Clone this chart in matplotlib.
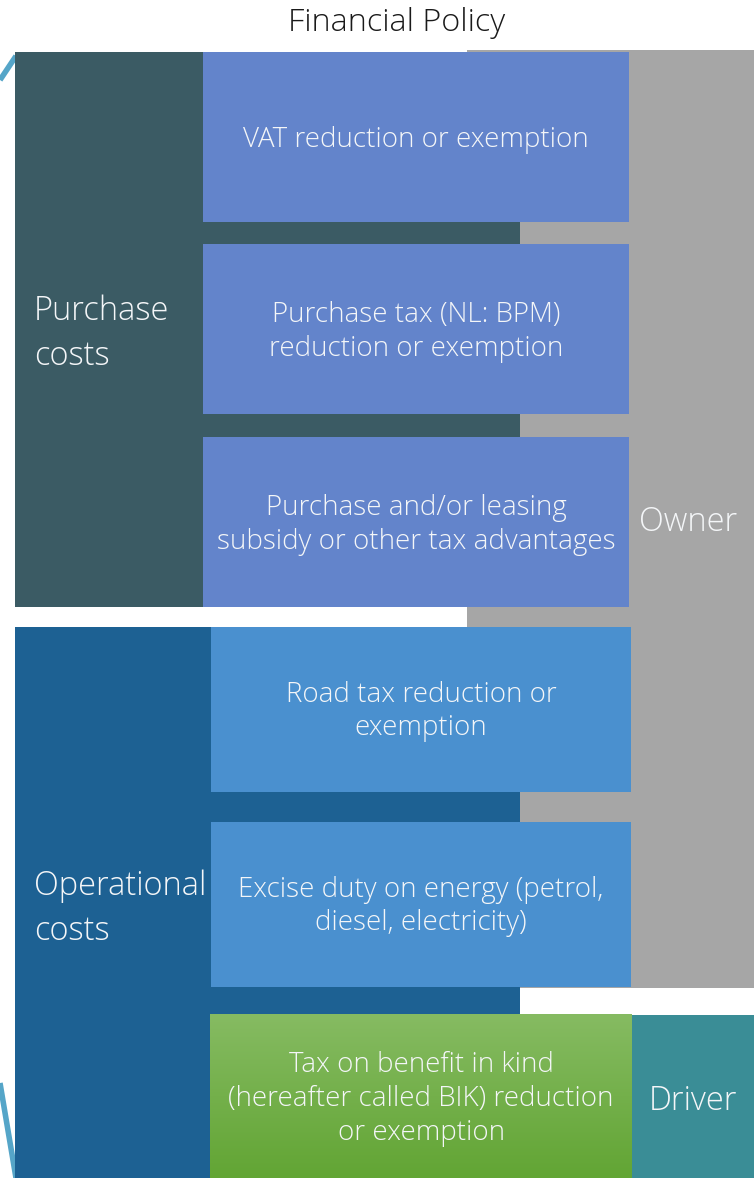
import numpy as np
import matplotlib
matplotlib.use('Agg')
from matplotlib import pyplot as plt
from matplotlib.patches import Rectangle
from matplotlib.colors import LinearSegmentedColormap

title = 'Financial Policy'
groups = ['Purchase\ncosts', 'Operational\ncosts']
actors = ['Owner', 'Driver']
purchase_items = ['VAT reduction or exemption',
                  'Purchase tax (NL: BPM)\nreduction or exemption',
                  'Purchase and/or leasing\nsubsidy or other tax advantages']
operational_items = ['Road tax reduction or\nexemption',
                     'Excise duty on energy (petrol,\ndiesel, electricity)']
driver_item = 'Tax on benefit in kind\n(hereafter called BIK) reduction\nor exemption'

W, H = 756, 1178
plt.rcParams['font.family'] = ['Open Sans', 'DejaVu Sans']
txt = '#f4f6f8'
fw = 'light'

fig = plt.figure(figsize=(W / 100, H / 100), dpi=100)
ax = fig.add_axes([0, 0, 1, 1])
ax.set_xlim(0, W)
ax.set_ylim(H, 0)
ax.axis('off')


def box(x0, y0, x1, y1, color, z):
    ax.add_patch(Rectangle((x0, y0), x1 - x0, y1 - y0, facecolor=color,
                           edgecolor='none', zorder=z))


# teal outline pieces peeking out on the left
ax.plot([0, 16], [80, 56], color='#55a5c8', lw=4, solid_capstyle='butt', zorder=1)
ax.plot([0, 16], [1083, 1178], color='#55a5c8', lw=4, solid_capstyle='butt', zorder=1)

# background bands
box(467, 50, 754, 988, '#a6a6a6', 2)
box(15, 52, 520, 607, '#3b5b64', 3)
box(15, 627, 520, 1178, '#1d6193', 3)
box(632, 1015, 754, 1178, '#3a8d96', 3)

ax.text(397, 23, title, ha='center', va='center', fontsize=23.3,
        fontweight=fw, color='#1a1a1a')

# group labels
ax.text(34, 334, groups[0], ha='left', va='center', fontsize=23.5,
        fontweight=fw, color=txt, linespacing=1.45, zorder=5)
ax.text(34, 909, groups[1], ha='left', va='center', fontsize=23.5,
        fontweight=fw, color=txt, linespacing=1.45, zorder=5)
ax.text(639, 522, actors[0], ha='left', va='center', fontsize=23.5,
        fontweight=fw, color=txt, zorder=5)
ax.text(649, 1101, actors[1], ha='left', va='center', fontsize=23.5,
        fontweight=fw, color=txt, zorder=5)

# purchase boxes
p_rows = [(52, 222), (244, 414), (437, 607)]
for (y0, y1), lab in zip(p_rows, purchase_items):
    box(203, y0, 629, y1, '#6384cb', 4)
    ax.text(416, (y0 + y1) / 2 + 3, lab, ha='center', va='center', fontsize=20,
            fontweight=fw, color=txt, linespacing=1.27, zorder=5)

# operational boxes
o_rows = [(627, 792), (822, 987)]
for (y0, y1), lab in zip(o_rows, operational_items):
    box(211, y0, 631, y1, '#4a90cf', 4)
    ax.text(421, (y0 + y1) / 2 + 2, lab, ha='center', va='center', fontsize=20,
            fontweight=fw, color=txt, linespacing=1.27, zorder=5)

# green box with vertical gradient
cmap = LinearSegmentedColormap.from_list('g', ['#86bb62', '#62a534'])
grad = np.linspace(0, 1, 200).reshape(-1, 1)
ax.imshow(grad, cmap=cmap, extent=[210, 632, 1178, 1014], aspect='auto',
          zorder=4)
ax.set_xlim(0, W)
ax.set_ylim(H, 0)
ax.text(421, 1099, driver_item, ha='center', va='center', fontsize=20,
        fontweight=fw, color=txt, linespacing=1.27, zorder=5)

fig.savefig('out.png', dpi=100)
